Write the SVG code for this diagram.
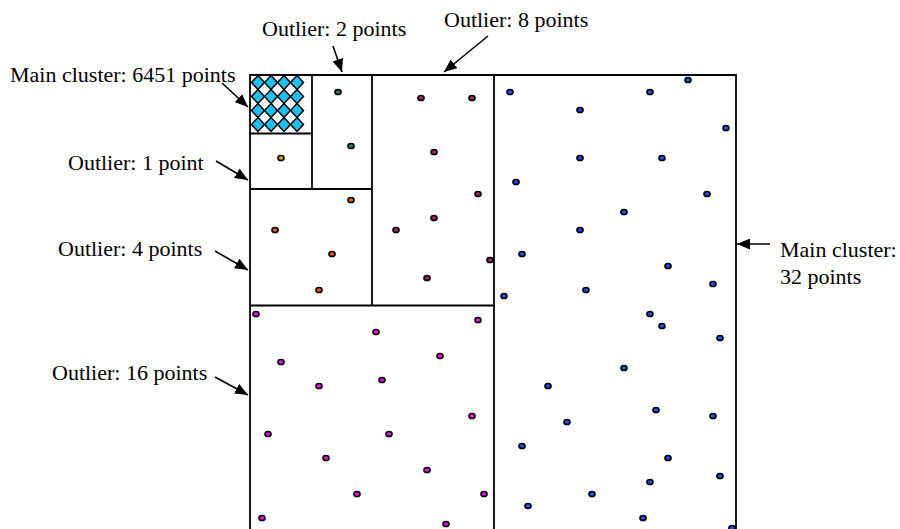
<svg xmlns="http://www.w3.org/2000/svg" width="900" height="529" viewBox="0 0 900 529">
<defs>
<style>
text{font-family:"Liberation Serif","Times New Roman",serif;font-size:22px;fill:#000}
.box{fill:none;stroke:#000;stroke-width:1.8}
.arr{stroke:#000;stroke-width:1.6;fill:none;marker-end:url(#ah)}
.d{stroke:#000;stroke-width:1.7}
.dia{fill:#1EC0F0;stroke:#000;stroke-width:1.5}
.c1{fill:#E8A800}.c2{fill:#208860}.c4{fill:#F06000}.c8{fill:#B02060}.c16{fill:#FF00FF}.c32{fill:#2050FF}
</style>
<marker id="ah" viewBox="0 0 10 10" refX="10" refY="5" markerWidth="13" markerHeight="11" markerUnits="userSpaceOnUse" orient="auto" preserveAspectRatio="none">
<path d="M0,0 L10,5 L0,10 z" fill="#000"/>
</marker>
<path id="dm" d="M0,-7 L6.5,0 L0,7 L-6.5,0 z"/>
</defs>
<rect width="900" height="529" fill="#fff"/>
<g id="frame">
<path class="box" d="M250,529 L250,75 L736,75 L736,529 M494,75 L494,529 M372,75 L372,305.5 M250,305.5 L494,305.5 M250,189 L372,189 M312,75 L312,189 M250,133.5 L312,133.5"/>
</g>
<g id="main-cluster-6451">
<use href="#dm" class="dia" x="258" y="82.5"/><use href="#dm" class="dia" x="271" y="82.5"/><use href="#dm" class="dia" x="284" y="82.5"/><use href="#dm" class="dia" x="297" y="82.5"/>
<use href="#dm" class="dia" x="258" y="96.5"/><use href="#dm" class="dia" x="271" y="96.5"/><use href="#dm" class="dia" x="284" y="96.5"/><use href="#dm" class="dia" x="297" y="96.5"/>
<use href="#dm" class="dia" x="258" y="110.5"/><use href="#dm" class="dia" x="271" y="110.5"/><use href="#dm" class="dia" x="284" y="110.5"/><use href="#dm" class="dia" x="297" y="110.5"/>
<use href="#dm" class="dia" x="258" y="124.5"/><use href="#dm" class="dia" x="271" y="124.5"/><use href="#dm" class="dia" x="284" y="124.5"/><use href="#dm" class="dia" x="297" y="124.5"/>
<text x="10" y="82">Main cluster: 6451 points</text>
</g>
<g id="outlier-1">
<ellipse class="d c1" cx="281" cy="158" rx="3" ry="2.5"/>
<text x="68" y="170">Outlier: 1 point</text>
</g>
<g id="outlier-2">
<ellipse class="d c2" cx="338" cy="92" rx="3" ry="2.5"/>
<ellipse class="d c2" cx="351" cy="146" rx="3" ry="2.5"/>
<text x="262" y="36">Outlier: 2 points</text>
</g>
<g id="outlier-4">
<ellipse class="d c4" cx="351" cy="200" rx="3" ry="2.5"/>
<ellipse class="d c4" cx="275" cy="230" rx="3" ry="2.5"/>
<ellipse class="d c4" cx="332" cy="254" rx="3" ry="2.5"/>
<ellipse class="d c4" cx="319" cy="290" rx="3" ry="2.5"/>
<text x="58" y="256">Outlier: 4 points</text>
</g>
<g id="outlier-8">
<ellipse class="d c8" cx="421" cy="98" rx="3" ry="2.5"/>
<ellipse class="d c8" cx="472" cy="98" rx="3" ry="2.5"/>
<ellipse class="d c8" cx="434" cy="152" rx="3" ry="2.5"/>
<ellipse class="d c8" cx="478" cy="194" rx="3" ry="2.5"/>
<ellipse class="d c8" cx="434" cy="218" rx="3" ry="2.5"/>
<ellipse class="d c8" cx="396" cy="230" rx="3" ry="2.5"/>
<ellipse class="d c8" cx="490" cy="260" rx="3" ry="2.5"/>
<ellipse class="d c8" cx="427" cy="278" rx="3" ry="2.5"/>
<text x="444" y="27">Outlier: 8 points</text>
</g>
<g id="outlier-16">
<ellipse class="d c16" cx="256" cy="314" rx="3" ry="2.5"/>
<ellipse class="d c16" cx="478" cy="320" rx="3" ry="2.5"/>
<ellipse class="d c16" cx="376" cy="332" rx="3" ry="2.5"/>
<ellipse class="d c16" cx="281" cy="362" rx="3" ry="2.5"/>
<ellipse class="d c16" cx="440" cy="356" rx="3" ry="2.5"/>
<ellipse class="d c16" cx="319" cy="386" rx="3" ry="2.5"/>
<ellipse class="d c16" cx="382" cy="380" rx="3" ry="2.5"/>
<ellipse class="d c16" cx="472" cy="416" rx="3" ry="2.5"/>
<ellipse class="d c16" cx="268" cy="434" rx="3" ry="2.5"/>
<ellipse class="d c16" cx="389" cy="434" rx="3" ry="2.5"/>
<ellipse class="d c16" cx="326" cy="458" rx="3" ry="2.5"/>
<ellipse class="d c16" cx="427" cy="470" rx="3" ry="2.5"/>
<ellipse class="d c16" cx="357" cy="494" rx="3" ry="2.5"/>
<ellipse class="d c16" cx="484" cy="494" rx="3" ry="2.5"/>
<ellipse class="d c16" cx="262" cy="518" rx="3" ry="2.5"/>
<ellipse class="d c16" cx="446" cy="524" rx="3" ry="2.5"/>
<text x="52" y="380">Outlier: 16 points</text>
</g>
<g id="main-cluster-32">
<ellipse class="d c32" cx="510" cy="92" rx="3" ry="2.5"/>
<ellipse class="d c32" cx="650" cy="92" rx="3" ry="2.5"/>
<ellipse class="d c32" cx="688" cy="80" rx="3" ry="2.5"/>
<ellipse class="d c32" cx="580" cy="110" rx="3" ry="2.5"/>
<ellipse class="d c32" cx="726" cy="128" rx="3" ry="2.5"/>
<ellipse class="d c32" cx="580" cy="158" rx="3" ry="2.5"/>
<ellipse class="d c32" cx="662" cy="158" rx="3" ry="2.5"/>
<ellipse class="d c32" cx="516" cy="182" rx="3" ry="2.5"/>
<ellipse class="d c32" cx="707" cy="194" rx="3" ry="2.5"/>
<ellipse class="d c32" cx="624" cy="212" rx="3" ry="2.5"/>
<ellipse class="d c32" cx="580" cy="230" rx="3" ry="2.5"/>
<ellipse class="d c32" cx="522" cy="254" rx="3" ry="2.5"/>
<ellipse class="d c32" cx="668" cy="266" rx="3" ry="2.5"/>
<ellipse class="d c32" cx="713" cy="284" rx="3" ry="2.5"/>
<ellipse class="d c32" cx="586" cy="290" rx="3" ry="2.5"/>
<ellipse class="d c32" cx="504" cy="296" rx="3" ry="2.5"/>
<ellipse class="d c32" cx="650" cy="314" rx="3" ry="2.5"/>
<ellipse class="d c32" cx="662" cy="326" rx="3" ry="2.5"/>
<ellipse class="d c32" cx="720" cy="338" rx="3" ry="2.5"/>
<ellipse class="d c32" cx="624" cy="368" rx="3" ry="2.5"/>
<ellipse class="d c32" cx="548" cy="386" rx="3" ry="2.5"/>
<ellipse class="d c32" cx="656" cy="410" rx="3" ry="2.5"/>
<ellipse class="d c32" cx="713" cy="416" rx="3" ry="2.5"/>
<ellipse class="d c32" cx="567" cy="422" rx="3" ry="2.5"/>
<ellipse class="d c32" cx="522" cy="446" rx="3" ry="2.5"/>
<ellipse class="d c32" cx="668" cy="458" rx="3" ry="2.5"/>
<ellipse class="d c32" cx="720" cy="476" rx="3" ry="2.5"/>
<ellipse class="d c32" cx="650" cy="482" rx="3" ry="2.5"/>
<ellipse class="d c32" cx="592" cy="494" rx="3" ry="2.5"/>
<ellipse class="d c32" cx="528" cy="506" rx="3" ry="2.5"/>
<ellipse class="d c32" cx="643" cy="518" rx="3" ry="2.5"/>
<ellipse class="d c32" cx="732" cy="528" rx="3" ry="2.5"/>
<text x="780" y="256.5">Main cluster:</text>
<text x="780" y="284">32 points</text>
</g>
<g id="connectors">
<line class="arr" x1="222" y1="83" x2="248" y2="107"/>
<line class="arr" x1="333" y1="46" x2="342" y2="72"/>
<line class="arr" x1="488" y1="36" x2="444" y2="72"/>
<line class="arr" x1="216" y1="161" x2="248" y2="180"/>
<line class="arr" x1="215" y1="251" x2="248" y2="270"/>
<line class="arr" x1="215" y1="377" x2="248" y2="395"/>
<line class="arr" x1="770" y1="244" x2="737" y2="244"/>
</g>
</svg>
